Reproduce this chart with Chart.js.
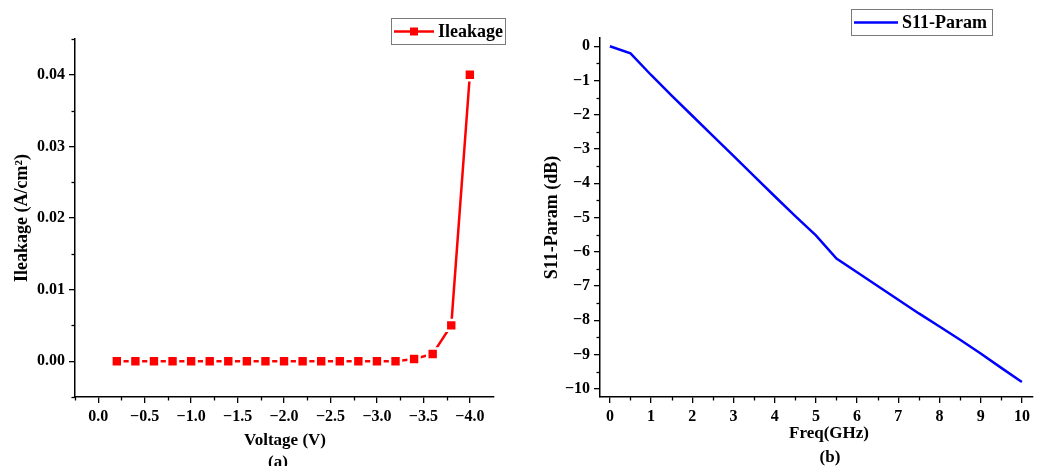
<!DOCTYPE html>
<html>
<head>
<meta charset="utf-8">
<script src="https://cdn.jsdelivr.net/npm/chart.js@4.4.1/dist/chart.umd.min.js"></script>
<style>
  html, body { margin: 0; padding: 0; background: #fff; overflow: hidden; }
  .panel { position: absolute; top: 0; height: 466px; }
</style>
</head>
<body>
<div class="panel" style="left:0;width:530px"><canvas id="leakChart"></canvas></div>
<div class="panel" style="left:530px;width:513px"><canvas id="s11Chart"></canvas></div>
<script>
// (a) leakage current vs reverse voltage
const voltage = [-0.2, -0.4, -0.6, -0.8, -1.0, -1.2, -1.4, -1.6, -1.8, -2.0,
                 -2.2, -2.4, -2.6, -2.8, -3.0, -3.2, -3.4, -3.6, -3.8, -4.0];
const ileakage = [0, 0, 0, 0, 0, 0, 0, 0, 0, 0,
                  0, 0, 0, 0, 0, 0, 0.0003, 0.001, 0.005, 0.04];
const voltageTicks = [0, -0.5, -1, -1.5, -2, -2.5, -3, -3.5, -4];
const leakTicks = [0, 0.01, 0.02, 0.03, 0.04];

// (b) S11 vs frequency
const freq = [0, 0.5, 1, 1.5, 2, 2.5, 3, 3.5, 4, 4.5, 5,
              5.5, 6, 6.5, 7, 7.5, 8, 8.5, 9, 9.5, 10];
const s11 = [0, -0.21, -0.84, -1.44, -2.03, -2.62, -3.2, -3.79, -4.38, -4.96, -5.52,
             -6.2, -6.6, -7.0, -7.4, -7.8, -8.18, -8.57, -8.97, -9.39, -9.8];
const freqTicks = [0, 1, 2, 3, 4, 5, 6, 7, 8, 9, 10];
const s11Ticks = [0, -1, -2, -3, -4, -5, -6, -7, -8, -9, -10];

const SERIF = '"Liberation Serif", "Times New Roman", serif';
const minus = v => (v < 0 ? '\u2212' : '') + Math.abs(v);

function midpoints(arr) {
  const out = [];
  for (let i = 0; i < arr.length - 1; i++) out.push((arr[i] + arr[i + 1]) / 2);
  return out;
}

// minor ticks, legend box and captions drawn on top of the chart
const extras = {
  id: 'extras',
  afterDraw(chart, args, opts) {
    const ctx = chart.ctx;
    const xs = chart.scales.x, ys = chart.scales.y;
    ctx.save();
    ctx.strokeStyle = '#000';
    ctx.lineWidth = 1.3;
    (opts.minorX || []).forEach(v => {
      const px = Math.round(xs.getPixelForValue(v)) + 0.5;
      ctx.beginPath(); ctx.moveTo(px, xs.top); ctx.lineTo(px, xs.top + 3.5); ctx.stroke();
    });
    (opts.minorY || []).forEach(v => {
      const py = Math.round(ys.getPixelForValue(v)) + 0.5;
      ctx.beginPath(); ctx.moveTo(ys.right, py); ctx.lineTo(ys.right - 3.5, py); ctx.stroke();
    });

    // legend
    const lg = opts.legend;
    const ds = chart.data.datasets[0];
    ctx.strokeStyle = '#7a7a7a';
    ctx.lineWidth = 1;
    ctx.strokeRect(lg.x + 0.5, lg.y + 0.5, lg.w, lg.h);
    const cy = lg.y + lg.h / 2 + 0.5;
    ctx.strokeStyle = ds.borderColor;
    ctx.lineWidth = 2.5;
    ctx.beginPath(); ctx.moveTo(lg.x + 3, cy); ctx.lineTo(lg.x + 3 + lg.line, cy); ctx.stroke();
    if (lg.marker) {
      ctx.fillStyle = ds.borderColor;
      ctx.fillRect(lg.x + 3 + lg.line / 2 - 4, cy - 4, 8, 8);
    }
    ctx.fillStyle = '#000';
    ctx.font = 'bold 18px ' + SERIF;
    ctx.textBaseline = 'middle';
    ctx.textAlign = 'left';
    ctx.fillText(ds.label, lg.x + lg.line + 7, cy + 1);

    // x title and panel caption
    ctx.font = 'bold 17px ' + SERIF;
    ctx.textAlign = 'center';
    (opts.captions || []).forEach(c => ctx.fillText(c.text, c.x, c.y));
    ctx.restore();
  }
};

function yScale(width, minV, maxV, ticks, fmt, title) {
  return {
    type: 'linear', min: minV, max: maxV,
    afterFit: s => { s.width = width; },
    afterBuildTicks: s => { s.ticks = ticks.map(v => ({ value: v })); },
    border: { color: '#000', width: 1.5 },
    grid: { drawOnChartArea: false, drawTicks: true, tickLength: 6, color: '#000', lineWidth: 1.3 },
    ticks: { color: '#000', padding: 4, font: { family: SERIF, size: 16, weight: 'bold' }, callback: fmt },
    title: { display: true, text: title, color: '#000', padding: { top: 12, bottom: 0 },
             font: { family: SERIF, size: 18, weight: 'bold' } }
  };
}

function xScale(minV, maxV, ticks, fmt, reverse) {
  return {
    type: 'linear', min: minV, max: maxV, reverse: reverse,
    afterFit: s => { s.height = 69; },
    afterBuildTicks: s => { s.ticks = ticks.map(v => ({ value: v })); },
    border: { color: '#000', width: 1.5 },
    grid: { drawOnChartArea: false, drawTicks: true, tickLength: 6, color: '#000', lineWidth: 1.3 },
    ticks: { color: '#000', padding: 4, maxRotation: 0, autoSkip: false,
             font: { family: SERIF, size: 16, weight: 'bold' }, callback: fmt }
  };
}

new Chart(document.getElementById('leakChart'), {
  type: 'line',
  data: {
    datasets: [{
      label: 'Ileakage',
      data: voltage.map((v, i) => ({ x: v, y: ileakage[i] })),
      borderColor: '#ff0000',
      borderWidth: 2.5,
      pointStyle: 'rect',
      pointRadius: 7.7,
      pointBackgroundColor: '#ff0000',
      pointBorderColor: '#ffffff',
      pointBorderWidth: 2.5,
      tension: 0
    }]
  },
  options: {
    responsive: true, maintainAspectRatio: false, animation: false,
    layout: { padding: { left: 0, right: 36, top: 39, bottom: 0 } },
    plugins: {
      legend: { display: false }, tooltip: { enabled: false },
      extras: {
        minorX: [0.25].concat(midpoints(voltageTicks)),
        minorY: [-0.005, 0.045].concat(midpoints(leakTicks)),
        legend: { x: 391, y: 18, w: 114, h: 26, line: 40, marker: true },
        captions: [{ text: 'Voltage (V)', x: 285, y: 441 }, { text: '(a)', x: 278, y: 463 }]
      }
    },
    scales: {
      x: xScale(-4.26, 0.25, voltageTicks, v => (v === 0 ? '0.0' : '\u2212' + Math.abs(v).toFixed(1)), true),
      y: yScale(75, -0.005, 0.045, leakTicks, v => v.toFixed(2), 'Ileakage (A/cm\u00b2)')
    }
  },
  plugins: [extras]
});

new Chart(document.getElementById('s11Chart'), {
  type: 'line',
  data: {
    datasets: [{
      label: 'S11-Param',
      data: freq.map((f, i) => ({ x: f, y: s11[i] })),
      borderColor: '#0000ff',
      borderWidth: 2.5,
      pointRadius: 0,
      tension: 0
    }]
  },
  options: {
    responsive: true, maintainAspectRatio: false, animation: false,
    layout: { padding: { left: 0, right: 10, top: 38, bottom: 0 } },
    plugins: {
      legend: { display: false }, tooltip: { enabled: false },
      extras: {
        minorX: midpoints(freqTicks),
        minorY: midpoints(s11Ticks),
        legend: { x: 321, y: 9, w: 141, h: 26, line: 44, marker: false },
        captions: [{ text: 'Freq(GHz)', x: 299, y: 434 }, { text: '(b)', x: 300, y: 458 }]
      }
    },
    scales: {
      x: xScale(-0.24, 10.27, freqTicks, v => String(v), false),
      y: yScale(70, -10.24, 0.24, s11Ticks, minus, 'S11-Param (dB)')
    }
  },
  plugins: [extras]
});
</script>
</body>
</html>
